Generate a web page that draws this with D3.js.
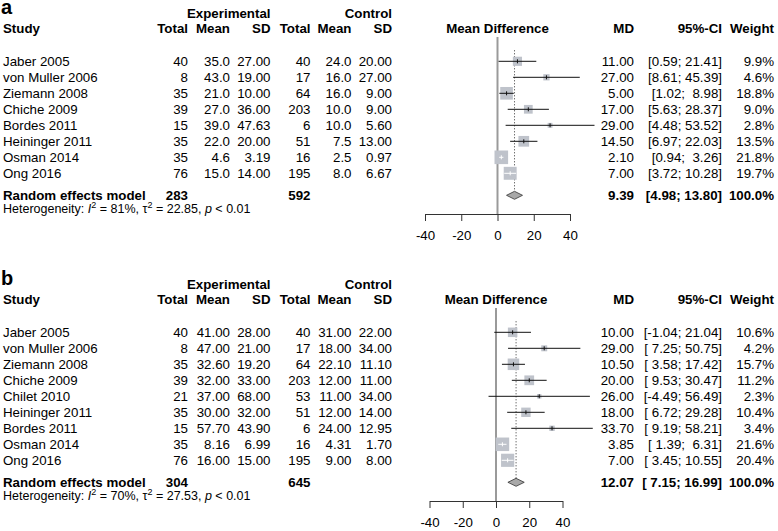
<!DOCTYPE html>
<html>
<head>
<meta charset="utf-8">
<script src="https://cdn.jsdelivr.net/npm/d3@7"></script>
<style>
  html, body { margin: 0; padding: 0; background: #fff; }
  svg { display: block; }
  text { font-family: "Liberation Sans", Arial, Helvetica, sans-serif; white-space: pre; fill: #000; }
</style>
</head>
<body>
<svg id="chart" width="778" height="531"></svg>
<script>
// ---------------------------------------------------------------
// Data, panel a
// ---------------------------------------------------------------
const studiesA  = ['Jaber 2005', 'von Muller 2006', 'Ziemann 2008', 'Chiche 2009', 'Bordes 2011', 'Heininger 2011', 'Osman 2014', 'Ong 2016']
const expTotalA = [40, 8, 35, 39, 15, 35, 35, 76]
const expMeanA  = [35.0, 43.0, 21.0, 27.0, 39.0, 22.0, 4.6, 15.0]
const expSdA    = [27.00, 19.00, 10.00, 36.00, 47.63, 20.00, 3.19, 14.00]
const ctlTotalA = [40, 17, 64, 203, 6, 51, 16, 195]
const ctlMeanA  = [24.0, 16.0, 16.0, 10.0, 10.0, 7.5, 2.5, 8.0]
const ctlSdA    = [20.00, 27.00, 9.00, 9.00, 5.60, 13.00, 0.97, 6.67]
const mdA       = [11.00, 27.00, 5.00, 17.00, 29.00, 14.50, 2.10, 7.00]
const loA       = [0.59, 8.61, 1.02, 5.63, 4.48, 6.97, 0.94, 3.72]
const hiA       = [21.41, 45.39, 8.98, 28.37, 53.52, 22.03, 3.26, 10.28]
const weightA   = [9.9, 4.6, 18.8, 9.0, 2.8, 13.5, 21.8, 19.7]
const summaryA  = { md: 9.39, lo: 4.98, hi: 13.80, expN: 283, ctlN: 592, i2: 81, tau2: '22.85' }

// ---------------------------------------------------------------
// Data, panel b
// ---------------------------------------------------------------
const studiesB  = ['Jaber 2005', 'von Muller 2006', 'Ziemann 2008', 'Chiche 2009', 'Chilet 2010', 'Heininger 2011', 'Bordes 2011', 'Osman 2014', 'Ong 2016']
const expTotalB = [40, 8, 35, 39, 21, 35, 15, 35, 76]
const expMeanB  = [41.00, 47.00, 32.60, 32.00, 37.00, 30.00, 57.70, 8.16, 16.00]
const expSdB    = [28.00, 21.00, 19.20, 33.00, 68.00, 32.00, 43.90, 6.99, 15.00]
const ctlTotalB = [40, 17, 64, 203, 53, 51, 6, 16, 195]
const ctlMeanB  = [31.00, 18.00, 22.10, 12.00, 11.00, 12.00, 24.00, 4.31, 9.00]
const ctlSdB    = [22.00, 34.00, 11.10, 11.00, 34.00, 14.00, 12.95, 1.70, 8.00]
const mdB       = [10.00, 29.00, 10.50, 20.00, 26.00, 18.00, 33.70, 3.85, 7.00]
const loB       = [-1.04, 7.25, 3.58, 9.53, -4.49, 6.72, 9.19, 1.39, 3.45]
const hiB       = [21.04, 50.75, 17.42, 30.47, 56.49, 29.28, 58.21, 6.31, 10.55]
const weightB   = [10.6, 4.2, 15.7, 11.2, 2.3, 10.4, 3.4, 21.6, 20.4]
const summaryB  = { md: 12.07, lo: 7.15, hi: 16.99, expN: 304, ctlN: 645, i2: 70, tau2: '27.53' }

const axisTicks = [-40, -20, 0, 20, 40]

// ---------------------------------------------------------------
// Layout
// ---------------------------------------------------------------
const FS = 13.3          // main font size
const ROW = 16           // row step
const COL = { study: 3, expTotal: 188, expMean: 230, expSd: 270.5, ctlTotal: 310.5,
              ctlMean: 351.5, ctlSd: 392, md: 634, ci: 722, weight: 774 }

const svg = d3.select('#chart')
const boxSize = d3.scaleSqrt().domain([0, 21.8]).range([0, 13.6])

function txt(g, x, y, s, anchor, bold, size) {
    return g.append('text')
        .attr('x', x).attr('y', y)
        .attr('text-anchor', anchor || 'start')
        .style('font-size', (size || FS) + 'px')
        .style('font-weight', bold ? 'bold' : 'normal')
        .text(s)
}

function pad(s, w) { return s.length < w ? ' '.repeat(w - s.length) + s : s }

function ciLabel(lo, hi, wLo, wHi) {
    return '[' + pad(lo.toFixed(2), wLo) + '; ' + pad(hi.toFixed(2), wHi) + ']'
}

function drawPanel(p) {
    const g = svg.append('g')
    const x = d3.scaleLinear().domain([-40, 40]).range(p.range)
    const n = p.studies.length
    const rowY = i => p.top + 66 + i * ROW
    const randY = rowY(n - 1) + 22
    const axisY = randY + 14
    const mid = y => y - 4.7

    // panel letter
    txt(g, 1, p.top + 14, p.letter, 'start', true, 20)

    // group headers
    txt(g, COL.expSd, p.top + 18, 'Experimental', 'end', true)
    txt(g, COL.ctlSd, p.top + 18, 'Control', 'end', true)

    // column headers
    const hy = p.top + 33
    txt(g, COL.study, hy, 'Study', 'start', true)
    txt(g, COL.expTotal, hy, 'Total', 'end', true)
    txt(g, COL.expMean, hy, 'Mean', 'end', true)
    txt(g, COL.expSd, hy, 'SD', 'end', true)
    txt(g, COL.ctlTotal, hy, 'Total', 'end', true)
    txt(g, COL.ctlMean, hy, 'Mean', 'end', true)
    txt(g, COL.ctlSd, hy, 'SD', 'end', true)
    txt(g, x(0), hy, 'Mean Difference', 'middle', true)
    txt(g, COL.md, hy, 'MD', 'end', true)
    txt(g, COL.ci, hy, '95%-CI', 'end', true)
    txt(g, COL.weight, hy, 'Weight', 'end', true)

    // widths for CI padding
    const wLo = d3.max(p.lo.concat([p.summary.lo]), v => v.toFixed(2).length)
    const wHi = d3.max(p.hi.concat([p.summary.hi]), v => v.toFixed(2).length)

    // study rows (text)
    p.studies.forEach((s, i) => {
        const y = rowY(i)
        txt(g, COL.study, y, s)
        txt(g, COL.expTotal, y, String(p.expTotal[i]), 'end')
        txt(g, COL.expMean, y, p.expMean[i].toFixed(p.meanDigits), 'end')
        txt(g, COL.expSd, y, p.expSd[i].toFixed(2), 'end')
        txt(g, COL.ctlTotal, y, String(p.ctlTotal[i]), 'end')
        txt(g, COL.ctlMean, y, p.ctlMean[i].toFixed(p.meanDigits), 'end')
        txt(g, COL.ctlSd, y, p.ctlSd[i].toFixed(2), 'end')
        txt(g, COL.md, y, p.md[i].toFixed(2), 'end')
        txt(g, COL.ci, y, ciLabel(p.lo[i], p.hi[i], wLo, wHi), 'end')
        txt(g, COL.weight, y, p.weight[i].toFixed(1) + '%', 'end')
    })

    // summary row
    txt(g, COL.study, randY, 'Random effects model', 'start', true)
    txt(g, COL.expTotal, randY, String(p.summary.expN), 'end', true)
    txt(g, COL.ctlTotal, randY, String(p.summary.ctlN), 'end', true)
    txt(g, COL.md, randY, p.summary.md.toFixed(2), 'end', true)
    txt(g, COL.ci, randY, ciLabel(p.summary.lo, p.summary.hi, wLo, wHi), 'end', true)
    txt(g, COL.weight, randY, '100.0%', 'end', true)

    // heterogeneity
    const het = txt(g, COL.study, randY + 13, 'Heterogeneity: ', 'start', false, 12.5)
    het.append('tspan').style('font-style', 'italic').text('I')
    het.append('tspan').attr('dy', -5).style('font-size', '9px').text('2')
    het.append('tspan').attr('dy', 5).text(' = ' + p.summary.i2 + '%, \u03c4')
    het.append('tspan').attr('dy', -5).style('font-size', '9px').text('2')
    het.append('tspan').attr('dy', 5).text(' = ' + p.summary.tau2 + ', ')
    het.append('tspan').style('font-style', 'italic').text('p')
    het.append('tspan').text(' < 0.01')

    // reference line at 0
    g.append('line')
        .attr('x1', x(0)).attr('x2', x(0))
        .attr('y1', hy + 4).attr('y2', axisY)
        .attr('stroke', '#9a9a9a').attr('stroke-width', 2)

    // dotted line at summary estimate
    g.append('line')
        .attr('x1', x(p.summary.md)).attr('x2', x(p.summary.md))
        .attr('y1', mid(rowY(0)) - 11).attr('y2', mid(randY) - 4)
        .attr('stroke', '#333').attr('stroke-width', 1)
        .attr('stroke-dasharray', '1,2')

    // squares and CIs
    p.studies.forEach((s, i) => {
        const cy = mid(rowY(i))
        const side = boxSize(p.weight[i])
        const x0 = x(p.lo[i]), x1 = x(p.hi[i]), xm = x(p.md[i])
        const inside = (x1 - x0) < side
        g.append('rect')
            .attr('x', xm - side / 2).attr('y', cy - side / 2)
            .attr('width', side).attr('height', side)
            .attr('fill', '#bfc3cb')
        g.append('line')
            .attr('x1', x0).attr('x2', x1).attr('y1', cy).attr('y2', cy)
            .attr('stroke', inside ? '#fff' : '#111').attr('stroke-width', 1)
        g.append('line')
            .attr('x1', xm).attr('x2', xm).attr('y1', cy - 2).attr('y2', cy + 2)
            .attr('stroke', inside ? '#fff' : '#111').attr('stroke-width', 1)
    })

    // diamond
    const dy = mid(randY)
    const s = p.summary
    g.append('path')
        .attr('d', `M${x(s.lo)},${dy} L${x(s.md)},${dy - 4} L${x(s.hi)},${dy} L${x(s.md)},${dy + 4} Z`)
        .attr('fill', '#a9a9a9').attr('stroke', '#333').attr('stroke-width', 0.8)

    // axis
    const ax = g.append('g')
        .attr('transform', `translate(0,${axisY})`)
        .call(d3.axisBottom(x).tickValues(axisTicks).tickSize(7).tickSizeOuter(0)
            .tickPadding(10).tickFormat(d => String(d)))
    ax.select('.domain').attr('stroke', '#333')
    ax.selectAll('.tick line').attr('stroke', '#333')
    ax.selectAll('.tick text')
        .style('font-size', FS + 'px')
        .style('font-family', '"Liberation Sans", Arial, sans-serif')
        .attr('fill', '#000')
}

drawPanel({
    letter: 'a', top: 0, range: [425, 570], meanDigits: 1,
    studies: studiesA, expTotal: expTotalA, expMean: expMeanA, expSd: expSdA,
    ctlTotal: ctlTotalA, ctlMean: ctlMeanA, ctlSd: ctlSdA,
    md: mdA, lo: loA, hi: hiA, weight: weightA, summary: summaryA
})

drawPanel({
    letter: 'b', top: 271, range: [429.5, 562.5], meanDigits: 2,
    studies: studiesB, expTotal: expTotalB, expMean: expMeanB, expSd: expSdB,
    ctlTotal: ctlTotalB, ctlMean: ctlMeanB, ctlSd: ctlSdB,
    md: mdB, lo: loB, hi: hiB, weight: weightB, summary: summaryB
})
</script>
</body>
</html>
